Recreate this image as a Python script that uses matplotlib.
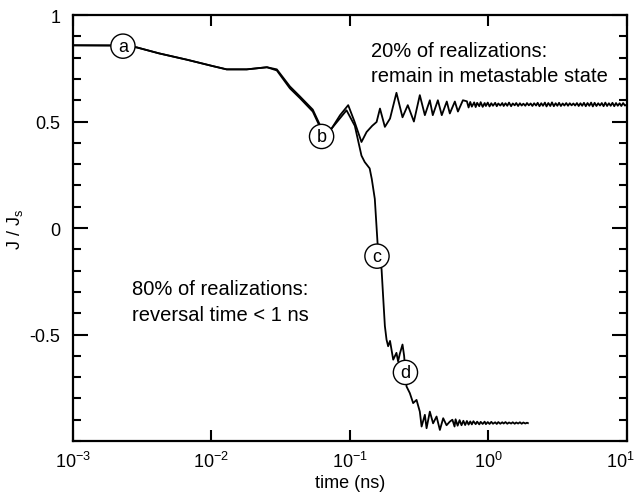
import matplotlib
matplotlib.use('Agg')
import matplotlib.pyplot as plt
import matplotlib.transforms as mtransforms
from matplotlib.ticker import FixedLocator, MultipleLocator, NullLocator

plt.rcParams['font.family'] = ['Liberation Sans', 'DejaVu Sans']
plt.rcParams['mathtext.fontset'] = 'custom'
plt.rcParams['mathtext.rm'] = 'Liberation Sans'
plt.rcParams['mathtext.it'] = 'Liberation Sans'
plt.rcParams['axes.unicode_minus'] = False

# early part, shared by both realizations
t_early = [0.001, 0.0023, 0.0029, 0.0042, 0.0067, 0.0103, 0.0129, 0.018, 0.0252,
           0.0297, 0.0369, 0.0436, 0.054, 0.0607, 0.0625]
j_early_a = [0.858, 0.857, 0.848, 0.82, 0.79, 0.76, 0.745, 0.745, 0.755,
             0.74, 0.656, 0.61, 0.547, 0.476, 0.44]
j_early_b = [0.858, 0.857, 0.848, 0.82, 0.79, 0.76, 0.745, 0.745, 0.755,
             0.745, 0.665, 0.618, 0.556, 0.485, 0.44]

# realization staying in the metastable state
t_meta = [0.0738, 0.085, 0.0973, 0.108, 0.1213, 0.1321, 0.145, 0.156, 0.165,
          0.179, 0.195, 0.217, 0.24, 0.262, 0.29, 0.32, 0.348, 0.378, 0.397,
          0.432, 0.461, 0.501, 0.527, 0.573, 0.603, 0.655]
j_meta = [0.467, 0.53, 0.577, 0.50, 0.404, 0.451, 0.48, 0.498, 0.561,
          0.475, 0.514, 0.635, 0.52, 0.577, 0.50, 0.624, 0.53, 0.60, 0.53,
          0.60, 0.53, 0.594, 0.538, 0.594, 0.547, 0.60]
t_meta_tail = [0.70, 0.72, 0.74, 0.76, 0.79, 0.81, 0.83, 0.86, 0.88, 0.91,
               0.94, 0.96, 0.99, 1.02, 1.05, 1.08, 1.12, 1.15, 1.18, 1.22,
               1.26, 1.29, 1.33, 1.37, 1.41, 1.46, 1.50, 1.55, 1.59, 1.64,
               1.69, 1.74, 1.79, 1.85, 1.90, 1.96, 2.02, 2.08, 2.14, 2.21,
               2.27, 2.34, 2.41, 2.48, 2.56, 2.63, 2.71, 2.80, 2.88, 2.97,
               3.06, 3.15, 3.24, 3.34, 3.44, 3.54, 3.65, 3.76, 3.87, 3.99,
               4.11, 4.23, 4.36, 4.49, 4.62, 4.76, 4.90, 5.05, 5.20, 5.36,
               5.52, 5.68, 5.85, 6.03, 6.21, 6.40, 6.59, 6.79, 6.99, 7.20,
               7.42, 7.64, 7.87, 8.11, 8.35, 8.60, 8.86, 9.12, 9.40, 9.68,
               10.0]
j_meta_tail = [0.595, 0.566, 0.592, 0.570, 0.590, 0.568, 0.588, 0.572, 0.591, 0.569,
               0.587, 0.573, 0.589, 0.571, 0.586, 0.574, 0.588, 0.572, 0.585, 0.575,
               0.587, 0.573, 0.586, 0.574, 0.589, 0.572, 0.585, 0.576, 0.587, 0.573,
               0.586, 0.575, 0.584, 0.574, 0.587, 0.576, 0.585, 0.573, 0.586, 0.575,
               0.588, 0.572, 0.586, 0.574, 0.589, 0.571, 0.587, 0.573, 0.590, 0.572,
               0.586, 0.574, 0.588, 0.573, 0.585, 0.575, 0.587, 0.574, 0.586, 0.576,
               0.585, 0.575, 0.587, 0.573, 0.586, 0.574, 0.588, 0.572, 0.587, 0.574,
               0.589, 0.571, 0.588, 0.573, 0.586, 0.575, 0.587, 0.572, 0.589, 0.573,
               0.586, 0.574, 0.588, 0.572, 0.587, 0.574, 0.586, 0.573, 0.587, 0.575,
               0.580]

# realization that reverses
t_rev = [0.0738, 0.0946, 0.1086, 0.1213, 0.128, 0.139, 0.144, 0.1514, 0.159,
         0.1694, 0.1738, 0.179, 0.184, 0.189, 0.195, 0.2056, 0.217, 0.223,
         0.2296, 0.240, 0.2465, 0.252, 0.2566, 0.271, 0.2864, 0.303, 0.320,
         0.3296, 0.348, 0.358, 0.378, 0.399, 0.4226, 0.4467, 0.472, 0.499,
         0.527]
j_rev = [0.467, 0.553, 0.48, 0.34, 0.31, 0.28, 0.23, 0.137, -0.085,
         -0.193, -0.319, -0.46, -0.524, -0.555, -0.53, -0.618, -0.586, -0.626,
         -0.59, -0.547, -0.60, -0.678, -0.744, -0.775, -0.822, -0.807, -0.862,
         -0.932, -0.877, -0.94, -0.862, -0.917, -0.885, -0.948, -0.893, -0.926,
         -0.909]
t_rev_tail = [0.55, 0.57, 0.58, 0.60, 0.62, 0.64, 0.66, 0.68, 0.70, 0.72,
              0.74, 0.76, 0.78, 0.81, 0.83, 0.86, 0.88, 0.91, 0.94, 0.96,
              0.99, 1.02, 1.05, 1.08, 1.12, 1.15, 1.18, 1.22, 1.26, 1.29,
              1.33, 1.37, 1.41, 1.46, 1.50, 1.55, 1.59, 1.64, 1.69, 1.74,
              1.79, 1.85, 1.90, 1.93]
j_rev_tail = [-0.900, -0.932, -0.898, -0.928, -0.902, -0.926, -0.905, -0.925, -0.906, -0.923,
              -0.908, -0.922, -0.907, -0.921, -0.909, -0.922, -0.910, -0.920, -0.909, -0.921,
              -0.911, -0.920, -0.910, -0.919, -0.912, -0.920, -0.911, -0.919, -0.912, -0.918,
              -0.911, -0.919, -0.913, -0.918, -0.912, -0.919, -0.913, -0.918, -0.912, -0.919,
              -0.913, -0.918, -0.914, -0.916]

# circled markers
mark_labels = ['a', 'b', 'c', 'd']
mark_t = [0.0023, 0.0625, 0.157, 0.252]
mark_j = [0.854, 0.43, -0.132, -0.678]

# axis ticks
x_ticks = [1e-3, 1e-2, 1e-1, 1e0, 1e1]
x_ticklabels = ['$10^{-3}$', '$10^{-2}$', '$10^{-1}$', '$10^{0}$', '$10^{1}$']
y_ticks = [-0.5, 0, 0.5, 1]
y_ticklabels = ['-0.5', '0', '0.5', '1']

fig = plt.figure(figsize=(6.39, 5.02), dpi=100)
ax = fig.add_axes([0.114, 0.1195, 0.867, 0.8485])

ax.plot(t_early + t_meta + t_meta_tail, j_early_a + j_meta + j_meta_tail, color='black', lw=1.3)
ax.plot(t_early + t_rev + t_rev_tail, j_early_b + j_rev + j_rev_tail, color='black', lw=1.3)

for lab, tx, jy in zip(mark_labels, mark_t, mark_j):
	ax.text(tx, jy, lab, fontsize=13, ha='center', va='center', zorder=5,
		bbox=dict(boxstyle='circle,pad=0.2', fc='white', ec='black', lw=1.0))

ax.set_xscale('log')
ax.set_xlim(1e-3, 1e1)
ax.set_ylim(-1, 1)
ax.xaxis.set_major_locator(FixedLocator(x_ticks))
ax.set_xticklabels(x_ticklabels)
ax.xaxis.set_minor_locator(NullLocator())
ax.yaxis.set_major_locator(FixedLocator(y_ticks))
ax.set_yticklabels(y_ticklabels)
ax.yaxis.set_minor_locator(MultipleLocator(0.1))

ax.tick_params(axis='both', which='both', direction='in', top=True, right=True, width=1.5)
ax.tick_params(axis='y', which='major', length=11, pad=9, labelsize=13)
ax.tick_params(axis='y', which='minor', length=6)
ax.tick_params(axis='x', which='major', length=8, pad=7, labelsize=13)
for s in ax.spines.values():
	s.set_linewidth(1.6)

# nudge the last x label so it stays inside the figure
last = ax.get_xticklabels()[-1]
last.set_transform(last.get_transform() + mtransforms.ScaledTranslation(-5/72, 0, fig.dpi_scale_trans))

ax.set_xlabel('time (ns)', fontsize=13, labelpad=2)
ax.set_ylabel('J / J$_\\mathrm{s}$', fontsize=13, labelpad=3)

ax.text(0.538, 0.94, '20% of realizations:\nremain in metastable state', transform=ax.transAxes,
	fontsize=14.5, ha='left', va='top', linespacing=1.45)
ax.text(0.00267, -0.24, '80% of realizations:\nreversal time < 1 ns',
	fontsize=14.5, ha='left', va='top', linespacing=1.45)

fig.savefig('out.png', dpi=100)
